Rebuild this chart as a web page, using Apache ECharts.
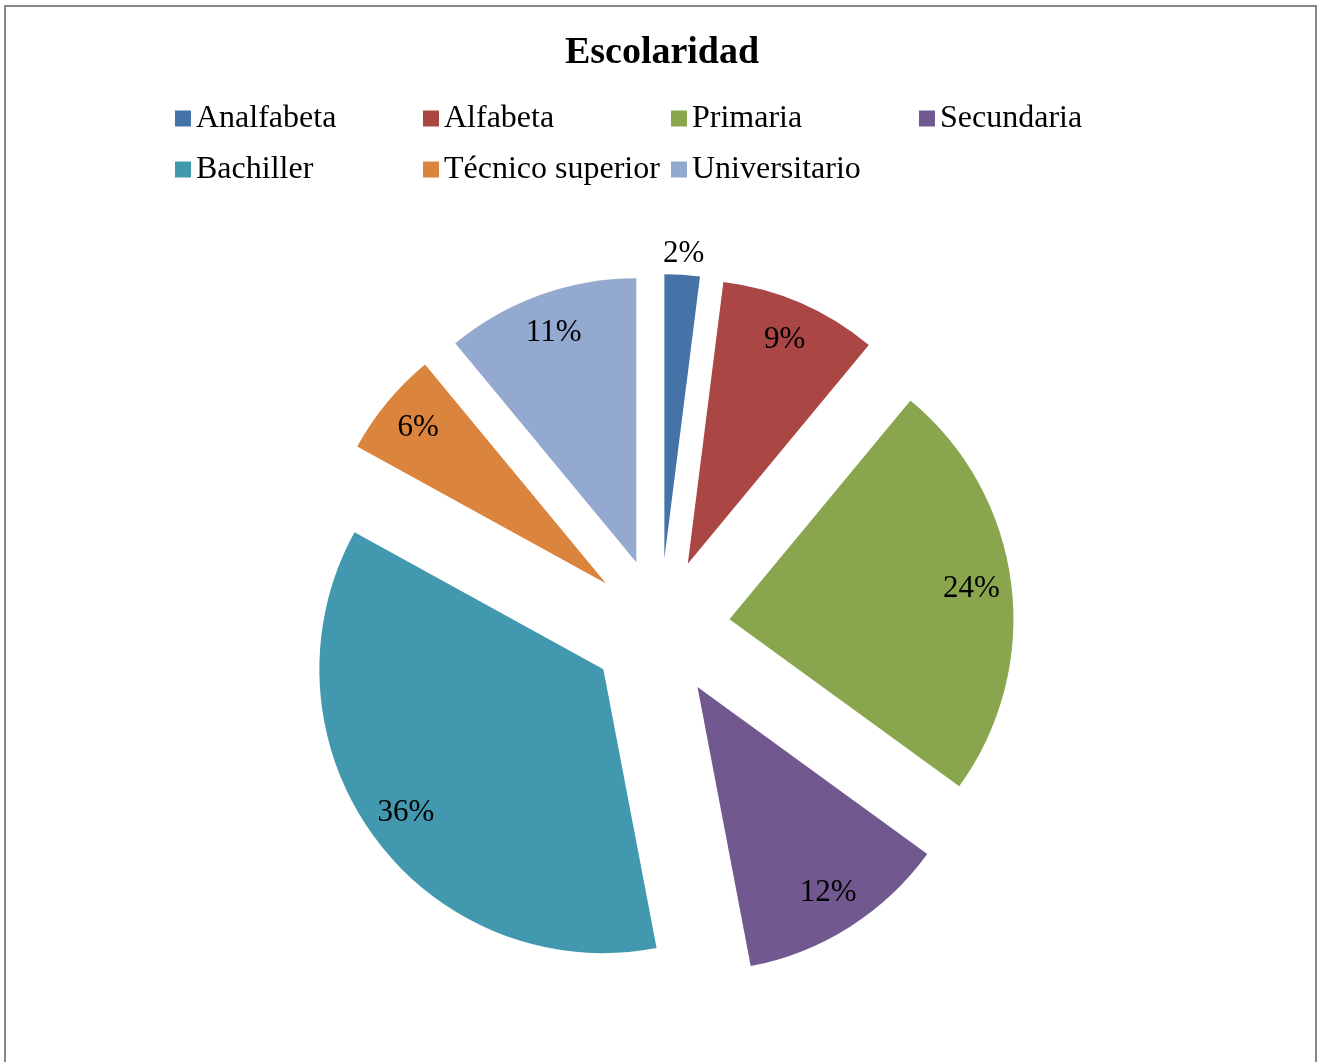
<!DOCTYPE html>
<html>
<head>
<meta charset="utf-8">
<script src="https://cdn.jsdelivr.net/npm/echarts@6/dist/echarts.min.js"></script>
<style>
  html, body { margin: 0; padding: 0; background: #fff; overflow: hidden; }
  .frame { position: absolute; left: 4px; top: 5px; width: 1309px; height: 1100px; border: 2px solid #878787; }
  #escolaridad { position: absolute; left: 0; top: 0; width: 1324px; height: 1062px; }
</style>
</head>
<body>
<div class="frame"></div>
<div id="escolaridad"></div>
<script>
// datos (porcentajes)
var categorias = ['Analfabeta', 'Alfabeta', 'Primaria', 'Secundaria', 'Bachiller', 'Técnico superior', 'Universitario'];
var valores = [2, 9, 24, 12, 36, 6, 11];
var colores = ['#4572A7', '#AA4643', '#89A54E', '#71588F', '#4198AF', '#DB843D', '#93A9CF'];

var fuente = '"Liberation Serif", "Times New Roman", serif';
var centro = [660, 628];
var separacion = 70;

function datos(conEtiqueta) {
  var arr = [];
  for (let i = 0; i < categorias.length; i++) {
    arr.push({
      name: categorias[i],
      value: valores[i],
      selected: true,
      label: { show: conEtiqueta(i) }
    });
  }
  return arr;
}

var etiqueta = {
  position: 'inside',
  color: '#000',
  fontFamily: fuente,
  fontSize: 31,
  padding: [6, 0, 0, 0],
  formatter: function (p) { return p.value + '%'; }
};

var option = {
  animation: false,
  color: colores,
  title: {
    text: 'Escolaridad',
    left: 'center',
    top: 29,
    textStyle: { fontFamily: fuente, fontSize: 38, fontWeight: 'bold', color: '#000' }
  },
  legend: {
    data: categorias,
    left: 170,
    top: 88,
    width: 1000,
    icon: 'rect',
    itemWidth: 16,
    itemHeight: 16,
    itemGap: 0,
    selectedMode: false,
    textStyle: { fontFamily: fuente, fontSize: 32, color: '#000', width: 227, lineHeight: 51 }
  },
  series: [
    {
      // pastel principal
      type: 'pie',
      center: centro,
      radius: 284,
      selectedMode: 'multiple',
      selectedOffset: separacion,
      silent: true,
      itemStyle: { borderWidth: 0 },
      label: { show: false },
      labelLine: { show: false },
      data: datos(function () { return false; })
    },
    {
      // anillo para colocar las etiquetas interiores
      type: 'pie',
      center: centro,
      radius: [198, 284],
      selectedMode: 'multiple',
      selectedOffset: separacion,
      silent: true,
      itemStyle: { color: 'rgba(0,0,0,0)', borderWidth: 0 },
      label: etiqueta,
      labelLine: { show: false },
      data: datos(function (i) { return i !== 0; })
    },
    {
      // etiqueta exterior del 2%
      type: 'pie',
      center: centro,
      radius: [254, 350],
      selectedMode: 'multiple',
      selectedOffset: separacion,
      silent: true,
      itemStyle: { color: 'rgba(0,0,0,0)', borderWidth: 0 },
      label: etiqueta,
      labelLine: { show: false },
      data: datos(function (i) { return i === 0; })
    }
  ]
};

var myChart = echarts.init(document.getElementById('escolaridad'));
myChart.setOption(option);
</script>
</body>
</html>
